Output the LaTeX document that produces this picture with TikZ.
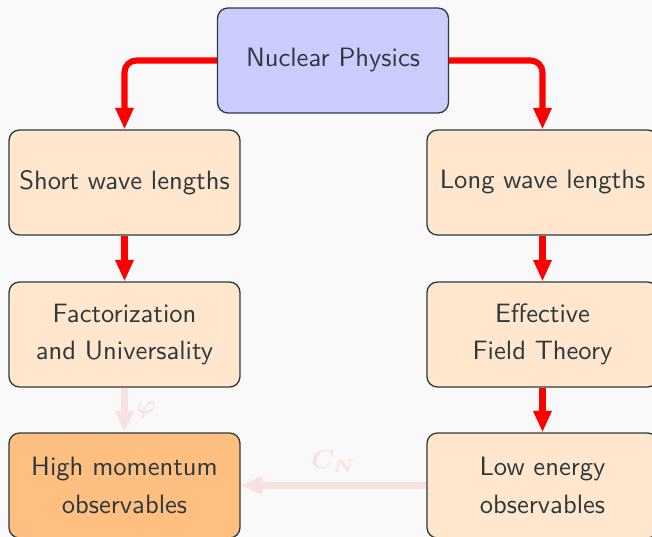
\documentclass[tikz,border=0pt]{standalone}
\usepackage{amsmath, amssymb}
\usepackage{bm}
\usepackage{tikz}
\usetikzlibrary{positioning, arrows.meta}
\usepackage{xcolor}
\definecolor{bgcol}{RGB}{249,249,249}
\definecolor{inkcol}{RGB}{44,58,62}
\definecolor{peach}{RGB}{255,230,204}
\definecolor{lavender}{RGB}{204,204,255}
\definecolor{apricot}{RGB}{255,191,128}
\definecolor{blush}{RGB}{250,225,225}

\begin{document}
\begin{tikzpicture}[
  x=0.38pt, y=-0.38pt,
  every node/.style={font=\sffamily\fontsize{10.1}{14.2}\selectfont, text=inkcol},
  box/.style={draw=inkcol, line width=0.5pt, rounded corners=4pt, fill=peach,
              minimum width=87.8pt, minimum height=39.9pt, align=center},
  link/.style={red, line width=2.3pt, rounded corners=4.5pt,
               -{Triangle[length=8.2pt, width=6.6pt]}},
  faint/.style={link, blush}
]
% canvas
\fill[bgcol] (0, 0) rectangle (652, 537);
\useasboundingbox (0, 0) rectangle (652, 537);

% top
\node[box, fill=lavender] (nuc) at (333, 60.5) {Nuclear Physics};

% left column
\node[box] (short) at (124.5, 182.5) {Short wave lengths};
\node[box] (fact) at (124.5, 334.5) {Factorization\\and Universality};
\node[box, fill=apricot] (high) at (124.5, 485.5) {High momentum\\observables};

% right column
\node[box] (long) at (542.5, 182.5) {Long wave lengths};
\node[box] (eft) at (542.5, 334.5) {Effective\\Field Theory};
\node[box] (low) at (542.5, 485.5) {Low energy\\observables};

% links
\draw[link] (nuc.west) -| (short.north);
\draw[link] (nuc.east) -| (long.north);
\draw[link] (short) -- (fact);
\draw[link] (long) -- (eft);
\draw[link] (eft) -- (low);

% faded links
\draw[faint] (fact) -- (high) node[midway, right, text=blush] {$\bm{\varphi}$};
\draw[faint] (low) -- (high) node[midway, above=0.5pt, text=blush] {$\bm{C_N}$};

\end{tikzpicture}
\end{document}
